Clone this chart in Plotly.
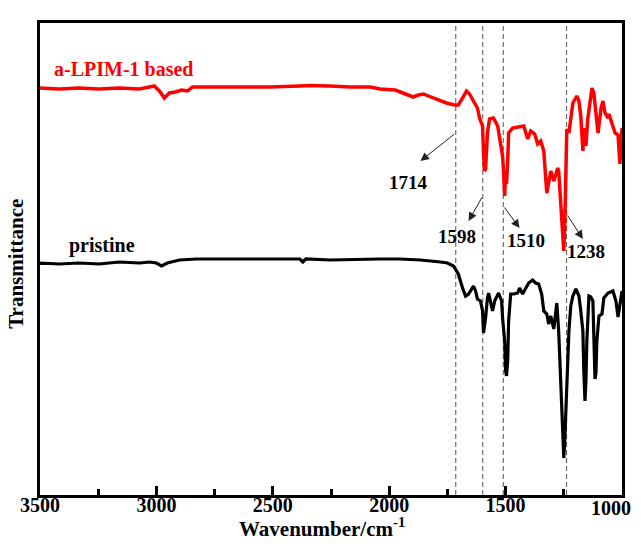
import plotly.graph_objects as go

# Wavenumbers (cm^-1) and relative transmittance (arbitrary units)
red_wn = [3500, 3418, 3332, 3246, 3160, 3073, 3030, 3009, 2987, 2966, 2944, 2918, 2892, 2866, 2845,
          2772, 2642, 2513, 2384, 2341, 2254, 2168, 2082, 2039, 1974, 1931, 1897, 1875, 1853, 1832,
          1810, 1780, 1754, 1720, 1703, 1685, 1668, 1655, 1638, 1621, 1612, 1599, 1595, 1591, 1586,
          1578, 1569, 1552, 1534, 1522, 1513, 1509, 1504, 1500, 1496, 1491, 1487, 1470, 1448, 1422,
          1405, 1392, 1375, 1362, 1349, 1336, 1323, 1306, 1293, 1276, 1272, 1263, 1254, 1250, 1246,
          1241, 1237, 1228, 1211, 1194, 1185, 1177, 1168, 1164, 1155, 1147, 1129, 1121, 1108, 1103,
          1090, 1082, 1073, 1060, 1056, 1039, 1030, 1017, 1009, 1000]
red_t = [407, 406, 407, 406, 407, 406, 408, 409, 404, 397, 402, 403, 405, 404, 408,
         408, 408, 408, 409, 409.5, 409, 408, 408, 406, 405, 401, 398, 400, 401, 399,
         397, 394, 392, 390, 390, 397, 404, 401, 394, 387, 377, 369, 344, 324, 326,
         362, 376, 377, 369, 354, 339, 324, 299, 324, 311, 334, 362, 367, 368, 369,
         356, 364, 361, 351, 354, 344, 302, 324, 314, 327, 324, 294, 264, 244, 270,
         310, 366, 362, 392, 399, 394, 379, 344, 367, 349, 376, 407, 402, 376, 362,
         387, 394, 382, 377, 381, 369, 362, 360, 331, 367]

black_wn = [3500, 3418, 3332, 3246, 3160, 3073, 3030, 3000, 2978, 2953, 2901, 2828, 2685, 2556, 2405,
            2384, 2371, 2358, 2254, 2112, 2039, 1953, 1866, 1780, 1750, 1724, 1703, 1685, 1672, 1659,
            1642, 1638, 1629, 1621, 1608, 1599, 1595, 1586, 1578, 1573, 1556, 1547, 1530, 1517, 1513,
            1504, 1500, 1496, 1491, 1487, 1478, 1465, 1448, 1440, 1427, 1414, 1401, 1384, 1371, 1358,
            1345, 1336, 1323, 1315, 1306, 1293, 1280, 1272, 1263, 1254, 1250, 1246, 1237, 1228, 1220,
            1211, 1198, 1185, 1177, 1168, 1164, 1159, 1155, 1151, 1142, 1134, 1125, 1121, 1116, 1112,
            1108, 1099, 1086, 1078, 1060, 1039, 1026, 1017, 1004, 1000]
black_t = [232, 231, 232, 231, 233, 232, 233, 232, 229, 232, 235, 236, 236, 236, 236,
           236, 233, 236, 235, 236, 236, 236, 235, 233, 232, 229, 221, 207, 199, 201,
           207, 209, 204, 196, 194, 184, 162, 177, 197, 202, 184, 194, 202, 194, 177,
           154, 124, 119, 134, 174, 201, 201, 202, 207, 201, 207, 212, 215, 212, 211,
           201, 184, 181, 171, 179, 166, 192, 164, 114, 54, 37, 54, 114, 164, 189,
           199, 206, 199, 184, 164, 124, 94, 114, 154, 199, 198, 194, 154, 116, 122,
           154, 179, 181, 197, 202, 204, 194, 178, 202, 204]

peak_wn = [1714, 1598, 1510, 1238]
peak_labels = ["1714", "1598", "1510", "1238"]
series_names = ["a-LPIM-1 based", "pristine"]
x_ticks = [3500, 3000, 2500, 2000, 1500, 1000]
x_minor = [3250, 2750, 2250, 1750, 1250]

FONT = "Liberation Serif"

fig = go.Figure()
fig.add_trace(go.Scatter(x=red_wn, y=red_t, mode="lines", name=series_names[0],
                         line=dict(color="#ff0000", width=3.5)))
fig.add_trace(go.Scatter(x=black_wn, y=black_t, mode="lines", name=series_names[1],
                         line=dict(color="#000000", width=3.2)))

for w in peak_wn:
    fig.add_shape(type="line", xref="x", yref="paper", x0=w, x1=w, y0=0, y1=1,
                  line=dict(color="#555555", width=1, dash="5px,3px"), layer="below")

# arrows: (tail on dashed line, head near label) and label positions
arrow_tail_t = [362, 299, 289, 281]
arrow_head = [(1866, 334), (1659, 274), (1440, 267), (1168, 256)]
label_pos = [(1918, 313), (1707, 259), (1412, 255), (1155, 244)]

for w, tt, (hx, hy), (lx, ly), lab in zip(peak_wn, arrow_tail_t, arrow_head, label_pos, peak_labels):
    fig.add_annotation(x=hx, y=hy, ax=w, ay=tt, xref="x", yref="y", axref="x", ayref="y",
                       text="", showarrow=True, arrowhead=2, arrowsize=1.7, arrowwidth=1,
                       arrowcolor="#222222", standoff=0, startstandoff=0)
    fig.add_annotation(x=lx, y=ly, xref="x", yref="y", text="<b>%s</b>" % lab, showarrow=False,
                       font=dict(family=FONT, size=19, color="black"))

fig.add_annotation(x=0.0206, y=426, xref="paper", yref="y", xanchor="left", yanchor="middle",
                   text="<b>%s</b>" % series_names[0],
                   showarrow=False, font=dict(family=FONT, size=20, color="#ff0000"))
fig.add_annotation(x=0.0464, y=250, xref="paper", yref="y", xanchor="left", yanchor="middle",
                   text="<b>%s</b>" % series_names[1],
                   showarrow=False, font=dict(family=FONT, size=20, color="black"))

fig.add_annotation(x=-0.041, y=0.49, xref="paper", yref="paper", xanchor="center", yanchor="middle",
                   text="<b>Transmittance</b>",
                   textangle=-90, showarrow=False, font=dict(family=FONT, size=21, color="black"))
fig.add_annotation(x=0.485, y=-0.068, xref="paper", yref="paper", xanchor="center", yanchor="middle",
                   text="<b>Wavenumber/cm<sup>-1</sup></b>",
                   showarrow=False, font=dict(family=FONT, size=21, color="black"))

# the last tick label sits just inside the right edge of the picture, as in the original
tick_text = ["<b>%d</b>" % v for v in x_ticks]
tick_text[-1] = ""
fig.add_annotation(x=1.019, y=-0.0265, xref="paper", yref="paper", xanchor="right", yanchor="middle",
                   text="<b>%d</b>" % x_ticks[-1], showarrow=False,
                   font=dict(family=FONT, size=20, color="black"))

# page body has an 8px margin, so the figure is sized and offset to compensate
fig.update_layout(
    width=633, height=539,
    margin=dict(l=32, r=19, t=15, b=52),
    paper_bgcolor="white", plot_bgcolor="white",
    showlegend=False,
    font=dict(family=FONT, color="black"),
)
fig.update_xaxes(range=[3500, 1000], tickvals=x_ticks, ticktext=tick_text,
                 ticks="inside", ticklen=9, tickwidth=3, tickcolor="black", ticklabelstandoff=-10,
                 minor=dict(tickvals=x_minor, ticks="inside", ticklen=6, tickwidth=3, tickcolor="black"),
                 showline=True, linewidth=3, linecolor="black", mirror=True,
                 showgrid=False, zeroline=False, automargin=False,
                 tickfont=dict(family=FONT, size=20, color="black"))
fig.update_yaxes(range=[0, 472], tickvals=[231], showticklabels=False,
                 ticks="inside", ticklen=7, tickwidth=2, tickcolor="black",
                 showline=True, linewidth=3, linecolor="black", mirror=True,
                 showgrid=False, zeroline=False, automargin=False)

fig.write_html("out.html")
